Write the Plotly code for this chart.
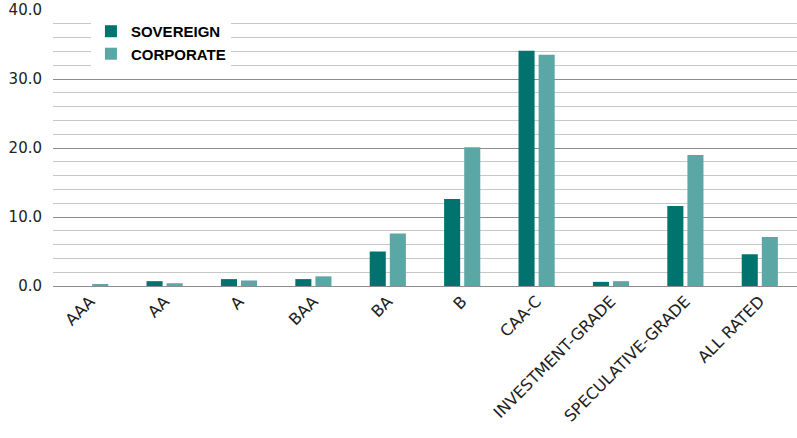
import plotly.graph_objects as go

categories = ["AAA", "AA", "A", "BAA", "BA", "B", "CAA-C",
              "INVESTMENT-GRADE", "SPECULATIVE-GRADE", "ALL RATED"]
sovereign = [0.0, 0.7, 1.0, 1.0, 5.0, 12.6, 34.1, 0.6, 11.6, 4.6]
corporate = [0.2, 0.4, 0.8, 1.4, 7.6, 20.1, 33.5, 0.7, 19.0, 7.1]

fig = go.Figure()
fig.add_trace(go.Bar(name="SOVEREIGN", x=categories, y=sovereign,
                     marker=dict(color="#00736E", line=dict(width=0))))
fig.add_trace(go.Bar(name="CORPORATE", x=categories, y=corporate,
                     marker=dict(color="#5BA7A5", line=dict(width=0))))

fig.update_layout(
    width=797, height=438,
    margin=dict(l=53, r=0, t=10, b=152),
    paper_bgcolor="white", plot_bgcolor="white",
    barmode="group", bargap=0.46, bargroupgap=0.2,
    font=dict(family="DejaVu Sans", color="#222222"),
    legend=dict(x=0.051, y=0.982, xanchor="left", yanchor="top",
                bgcolor="white", borderwidth=0,
                font=dict(family="Liberation Sans", size=15, color="black", weight="bold"),
                itemsizing="constant"),
    xaxis=dict(tickangle=-45, tickfont=dict(size=16, color="#222222"),
               showgrid=False, showline=False, ticks="", automargin=False,
               ticklabelstandoff=2),
    yaxis=dict(range=[0, 40], dtick=10, tickformat=".1f",
               tickfont=dict(size=15, color="#222222"),
               showgrid=True, gridcolor="#8c8c8c", gridwidth=1,
               zeroline=True, zerolinecolor="#8c8c8c", zerolinewidth=1,
               minor=dict(dtick=2, showgrid=True, gridcolor="#c8c8c8", gridwidth=1),
               ticks="", ticklabelstandoff=10, automargin=False),
)

fig.write_html("out.html", config={"displayModeBar": False},
               post_script="document.body.style.margin='0';document.body.style.overflow='hidden';")
